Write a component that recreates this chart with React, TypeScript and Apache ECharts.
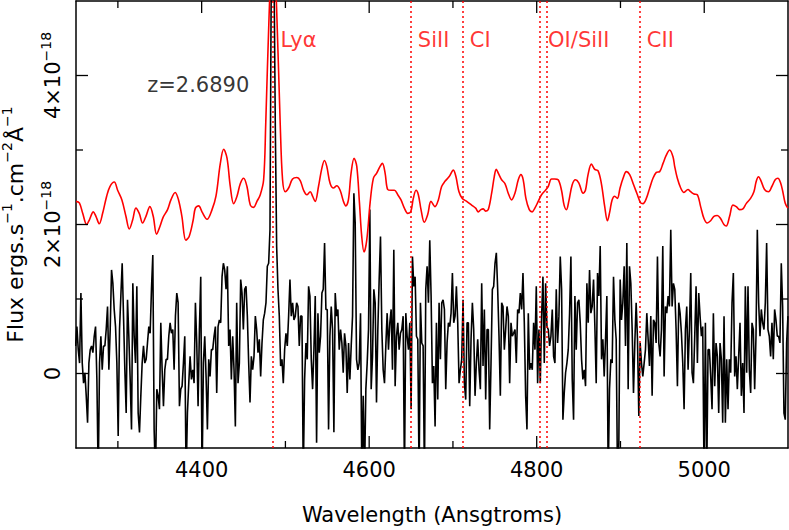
import React, { useEffect, useRef } from "react";
import * as echarts from "echarts";

// Raw spectrum (black), flux in units of 1e-18 erg s^-1 cm^-2 A^-1, on a uniform pixel grid
const BLACK_START = 4249.5;
const BLACK_STEP = 1.5896;
const BLACK_FLUX = [
  0.37,0.63,0.32,0.14,1.08,0.14,-0.13,0.01,-0.30,-0.66,
  0.14,0.32,0.37,0.28,0.50,0.63,-0.08,-1.4,0.14,0.50,
  0.05,0.37,0.37,0.59,0.90,0.05,0.59,1.39,1.21,0.86,
  0.63,0.14,-0.84,0.59,1.04,1.48,0.77,0.05,-0.53,0.99,
  0.50,-0.08,-0.75,1.21,0.50,0.14,1.17,-0.53,-0.79,-0.30,
  0.14,0.37,0.14,0.19,0.41,0.63,0.54,1.13,1.59,-0.75,
  -1.4,-0.21,-0.30,-0.48,0.68,0.05,-0.44,0.05,0.19,0.19,
  0.50,0.68,0.54,0.59,0.05,0.77,1.08,0.95,-0.44,-0.21,
  -0.17,0.14,0.50,-1.4,-0.53,-0.13,0.23,-0.08,0.05,-0.13,
  0.95,0.41,-0.44,0.59,1.30,-1.4,0.14,0.50,-0.04,-0.75,
  0.19,-0.04,0.32,0.32,0.50,0.63,-0.26,0.63,0.72,0.68,
  1.30,1.48,1.39,1.13,1.44,0.37,0.59,-0.08,0.50,0.05,
  -0.71,0.95,-0.13,0.14,1.26,1.08,0.59,1.13,1.17,0.77,
  0.14,-0.39,0.23,0.05,0.23,0.77,0.59,0.28,0.46,-0.04,
  0.41,0.72,0.81,0.95,1.44,1.48,1.93,5.5,6.5,5.5,
  3.3,1.71,1.13,0.77,0.10,0.19,-0.13,0.32,0.54,0.37,
  0.77,1.26,0.77,0.95,0.72,0.77,0.95,0.90,0.37,0.77,
  0.77,-1.4,-0.08,0.41,0.19,1.17,1.04,0.19,-0.21,0.32,
  1.04,-0.93,0.81,0.28,0.50,1.08,1.13,1.75,0.86,0.86,
  -0.75,0.50,0.90,0.59,-0.79,1.08,0.77,0.86,0.32,0.59,
  0.41,0.01,0.54,0.37,-0.26,0.41,-0.08,0.37,0.77,2.42,
  2.02,0.19,0.05,0.14,0.81,-1.4,-0.30,-1.4,-0.21,0.14,
  0.59,2.20,-0.21,0.23,1.13,0.95,-0.39,0.59,1.26,1.84,
  0.59,0.05,-0.13,0.37,0.81,0.32,0.68,0.86,0.05,1.66,
  -0.17,0.50,0.68,0.32,0.54,0.59,0.77,-1.4,0.81,0.50,
  0.32,0.68,-0.48,1.57,1.17,1.30,0.50,0.46,-1.4,0.95,
  0.41,0.37,-1.4,1.13,1.44,0.95,1.79,1.04,-0.13,0.10,
  -0.71,0.68,-0.35,0.95,0.19,0.95,0.99,0.86,-0.21,0.41,
  0.68,0.63,0.81,1.35,0.68,0.77,1.17,0.68,-0.13,0.05,
  0.19,0.99,-0.13,-0.35,0.68,0.68,-0.44,0.46,0.95,0.59,
  -0.30,0.14,0.46,0.05,-0.21,1.21,0.10,0.86,-0.35,0.59,
  0.59,-0.75,0.14,1.13,1.17,1.48,1.62,1.13,0.50,-0.30,
  0.95,0.90,0.32,0.59,0.90,0.77,-0.13,0.68,0.50,0.54,
  0.59,0.14,0.86,0.81,1.08,0.86,1.35,0.68,-0.30,-0.75,
  0.81,0.05,0.14,0.05,0.68,0.32,1.17,-0.13,0.59,-0.13,
  0.77,1.30,0.14,1.21,0.63,0.59,0.37,0.50,0.86,0.23,
  0.14,1.13,0.41,0.77,1.57,1.13,-0.62,-0.26,0.01,0.14,
  0.32,0.81,1.57,-0.08,-0.62,1.04,0.32,0.95,0.99,0.68,
  0.19,-0.08,0.05,-0.17,1.21,0.68,1.39,0.81,0.90,1.26,
  0.63,-0.13,1.35,1.04,1.71,0.19,0.46,-0.04,0.46,1.04,
  -1.4,-0.21,0.19,0.14,1.30,0.72,0.46,-1.4,-0.93,1.26,
  0.72,0.95,1.44,0.37,1.75,-0.21,1.44,1.21,0.59,-0.26,
  0.41,0.95,0.46,-0.57,0.41,0.14,-0.04,0.14,0.32,0.81,
  0.46,0.10,0.77,-0.30,0.72,0.68,0.41,1.57,0.41,0.23,
  0.59,1.71,-0.04,0.90,0.81,1.04,0.90,1.93,0.90,1.21,
  1.13,0.59,-0.17,0.95,0.81,0.54,0.14,-0.48,0.59,0.90,
  0.05,0.59,1.35,0.01,-0.13,0.50,1.17,0.14,1.08,0.77,
  0.50,0.63,-1.4,0.68,-1.4,0.32,0.32,-0.04,-0.48,0.81,
  -0.17,0.41,0.23,-0.53,0.41,0.19,-0.66,0.77,-0.66,0.19,
  -0.48,0.19,0.01,0.95,1.35,-0.04,0.23,-0.21,0.23,0.68,
  -0.30,0.14,-0.53,1.17,0.01,1.17,0.05,-0.26,0.68,0.59,
  -0.21,0.50,1.93,0.95,0.50,0.86,0.68,0.59,0.95,1.75,
  0.59,0.50,0.23,0.68,0.19,0.86,0.72,0.50,0.50,0.41,
  1.48,0.90,-0.53,-0.62,0.41,0.77,
];

// Smoothed spectrum (red), offset upward
const RED_WAVE = [
  4250,4254,4258,4262.7,4265.9,4270.7,4273.8,4277.8,4281.8,4286.6,4290.5,4295.7,4299.7,4304.8,4309.6,4313.6,4317.6,4321.5,4325.5,4329.5,4333.5,4338.2,4342.2,4346.2,4350.1,4354.1,4359.3,4363.3,4368.4,4372.4,4376.4,4381.1,4385.1,4389.9,
  4392.5,4396.5,4400.4,4406.4,4412.4,4417.1,4422.3,4426.3,4430.3,4434.2,4438.2,4442.2,4446.2,4450.1,4454.1,4458.1,4462.0,4466.0,4470.0,4474.0,4476.5,4480.5,4485.2,4489.5,4493.8,4496.6,4499.8,4503.8,4508.5,4513.7,4517.7,4521.7,4525.6,4529.6,4532.4,
  4535.5,4539.5,4543.4,4546.6,4549.4,4553.4,4557.4,4561.3,4565.3,4569.3,4572.1,4575.2,4578.4,4582.0,4585.2,4588.4,4591.1,4593.9,4597.1,4601.1,4605.0,4609.0,4613.0,4615.8,4619.0,4622.1,4626.1,4630.1,4634.1,4638.0,4642.0,4646.0,4649.6,4652.7,4655.9,4658.7,4661.9,4665.8,4669.8,4673.8,
  4678.6,4682.6,4686.5,4690.5,4695.3,4700.5,4703.6,4707.2,4711.2,4716.4,4722.3,4727.1,4730.3,4733.4,4736.2,4739.0,4742.2,4746.2,4749.3,4751.7,4754.1,4758.1,4762.1,4766.0,4770.0,4774.0,4778.0,4781.1,4783.9,4787.1,4791.1,4794.6,4797.8,4801.8,4805.8,4810.5,4813.7,4817.7,
  4821.6,4825.6,4829.6,4832.7,4835.5,4838.3,4842.3,4846.2,4850.2,4855.4,4858.2,4861.3,4865.3,4869.3,4873.3,4877.2,4881.2,4884.4,4887.2,4890.0,4893.1,4896.3,4899.5,4903.1,4907.0,4911.0,4915.8,4920.2,4924.1,4926.9,4930.9,4934.9,4938.8,4942.8,4946.8,4950.8,4954.7,4958.7,4962.7,
  4964.7,4967.9,4971.9,4975.8,4980.6,4983.8,4987.7,4991.7,4995.7,4999.7,5003.6,5007.6,5011.6,5015.6,5019.5,5023.5,5026.3,5030.3,5034.2,5038.2,5042.2,5046.2,5050.1,5055.3,5059.3,5062.1,5064.8,5068.0,5072.0,5076.8,5080.7,5084.7,5087.9,5091.1,5093.8,5096.6,5099.8,
];
const RED_FLUX = [
  2.31,2.29,2.15,2.00,2.06,2.17,2.11,2.01,2.15,2.38,2.51,2.57,2.46,2.33,2.11,1.94,2.06,2.22,2.15,2.02,2.11,2.24,2.11,1.87,1.97,2.10,2.20,2.33,2.43,2.33,2.11,1.79,1.84,2.06,
  2.22,2.25,2.17,2.07,2.20,2.38,2.82,3.01,2.89,2.51,2.28,2.38,2.55,2.62,2.51,2.26,2.23,2.31,2.40,2.60,3.35,4.8,6.0,4.9,3.35,2.60,2.44,2.49,2.61,2.63,2.59,2.46,2.40,2.44,2.38,
  2.31,2.51,2.75,2.86,2.78,2.55,2.49,2.52,2.46,2.31,2.25,2.33,2.69,2.89,2.78,2.29,1.84,1.63,1.79,2.29,2.62,2.69,2.78,2.82,2.69,2.47,2.46,2.46,2.40,2.33,2.22,2.15,2.17,2.35,2.46,2.40,2.20,2.03,2.13,2.31,
  2.24,2.33,2.51,2.58,2.64,2.73,2.64,2.44,2.35,2.31,2.26,2.22,2.17,2.20,2.21,2.18,2.20,2.42,2.64,2.74,2.69,2.60,2.55,2.42,2.33,2.42,2.60,2.67,2.60,2.35,2.20,2.17,2.22,2.31,2.40,2.46,2.51,2.61,
  2.61,2.60,2.46,2.26,2.20,2.31,2.53,2.60,2.56,2.42,2.46,2.67,2.81,2.74,2.72,2.55,2.24,2.05,2.17,2.33,2.38,2.35,2.49,2.62,2.71,2.67,2.53,2.40,2.29,2.28,2.35,2.49,2.62,2.70,2.71,2.82,2.93,3.00,2.91,
  2.78,2.62,2.49,2.43,2.47,2.44,2.41,2.40,2.24,2.08,2.02,2.05,2.11,2.12,2.08,2.00,1.98,2.11,2.26,2.24,2.20,2.21,2.28,2.35,2.44,2.58,2.64,2.58,2.47,2.44,2.51,2.60,2.62,2.56,2.44,2.29,2.22,
];

// Identified lines (observed wavelengths at z = 2.6890)
const LINE_WAVES = [4484.6, 4649.7, 4711.7, 4803.7, 4811.8, 4923.1];
const LABEL_NAMES = ["Lyα", "SiII", "CI", "OI/SiII", "CII"];
const LABEL_WAVES = [4484.6, 4649.7, 4711.7, 4811.8, 4923.1];
const LABEL_GAPS = [8, 7, 7, 1.5, 7];
const LABEL_LEVEL = 4.48;
const REDSHIFT_TEXT = "z=2.6890";
const REDSHIFT_POS = [4335, 3.87];

const X_MIN = 4250;
const X_MAX = 5100;
const Y_MIN = -1;
const Y_MAX = 5;
const X_MAJOR = [4400, 4600, 4800, 5000];
const X_MINOR = [4300, 4500, 4700, 4900];
const Y_MAJOR = [0, 2, 4];
const Y_MINOR = [1, 3];

const FONT = "DejaVu Sans";
const MAJOR_LEN = 12;
const MINOR_LEN = 7;

export default function App() {
  const ref = useRef<HTMLDivElement>(null);
  useEffect(() => {
    if (!ref.current) return;
    const chart = echarts.init(ref.current, undefined, { renderer: "svg" });
    const black = BLACK_FLUX.map((v, i) => [BLACK_START + i * BLACK_STEP, v]);
    const red = RED_WAVE.map((w, i) => [w, RED_FLUX[i]]);
    const axisLineStyle = { color: "#000", width: 1.5 };

    // tick items: [value, length, direction(0 = x tick, 1 = y tick)]
    const tickData: number[][] = [
      ...X_MAJOR.map((v) => [v, MAJOR_LEN, 0]),
      ...X_MINOR.map((v) => [v, MINOR_LEN, 0]),
      ...Y_MAJOR.map((v) => [v, MAJOR_LEN, 1]),
      ...Y_MINOR.map((v) => [v, MINOR_LEN, 1]),
    ];
    const tickStyle = { stroke: "#000", lineWidth: 1.3 };
    const renderTick = (_params: any, api: any) => {
      const v = api.value(0);
      const len = api.value(1);
      const dir = api.value(2);
      if (dir === 0) {
        const b = api.coord([v, Y_MIN]);
        const t = api.coord([v, Y_MAX]);
        return {
          type: "group",
          children: [
            { type: "line", shape: { x1: b[0], y1: b[1], x2: b[0], y2: b[1] - len }, style: tickStyle },
            { type: "line", shape: { x1: t[0], y1: t[1], x2: t[0], y2: t[1] + len }, style: tickStyle },
          ],
        };
      }
      const l = api.coord([X_MIN, v]);
      const r = api.coord([X_MAX, v]);
      return {
        type: "group",
        children: [
          { type: "line", shape: { x1: l[0], y1: l[1], x2: l[0] + len, y2: l[1] }, style: tickStyle },
          { type: "line", shape: { x1: r[0], y1: r[1], x2: r[0] - len, y2: r[1] }, style: tickStyle },
        ],
      };
    };

    const supRich = {
      m: { fontSize: 21, fontFamily: FONT, color: "#000", lineHeight: 28 },
      s: { fontSize: 14, fontFamily: FONT, color: "#000", lineHeight: 14, verticalAlign: "top" },
    };
    const nameRich = {
      m: { fontSize: 22, fontFamily: FONT, color: "#000", lineHeight: 30 },
      s: { fontSize: 14, fontFamily: FONT, color: "#000", lineHeight: 14, verticalAlign: "top" },
    };

    chart.setOption({
      animation: false,
      grid: {
        left: 76,
        right: 1,
        top: 1,
        bottom: 82,
        containLabel: false,
        outerBoundsMode: "none",
      },
      xAxis: [
        {
          type: "value",
          min: X_MIN,
          max: X_MAX,
          position: "bottom",
          splitLine: { show: false },
          axisLine: { show: true, onZero: false, lineStyle: axisLineStyle },
          axisTick: { show: false },
          axisLabel: {
            customValues: X_MAJOR,
            fontSize: 21,
            color: "#000",
            fontFamily: FONT,
            margin: 11,
            formatter: (v: number) => String(v),
          },
          name: "Wavelength (Ansgtroms)",
          nameLocation: "middle",
          nameGap: 56,
          nameTextStyle: { fontSize: 21, color: "#000", fontFamily: FONT },
        },
        {
          type: "value",
          min: X_MIN,
          max: X_MAX,
          position: "top",
          splitLine: { show: false },
          axisLine: { show: true, onZero: false, lineStyle: axisLineStyle },
          axisTick: { show: false },
          axisLabel: { show: false },
        },
      ],
      yAxis: [
        {
          type: "value",
          min: Y_MIN,
          max: Y_MAX,
          position: "left",
          splitLine: { show: false },
          axisLine: { show: true, onZero: false, lineStyle: axisLineStyle },
          axisTick: { show: false },
          axisLabel: {
            customValues: Y_MAJOR,
            rotate: 90,
            color: "#000",
            fontFamily: FONT,
            fontSize: 21,
            margin: 9,
            formatter: (v: number) => (v === 0 ? "{m|0}" : `{m|${v}×10}{s|−18}`),
            rich: supRich,
          },
          name: "{m|Flux ergs.s}{s|−1}{m|.cm}{s|−2}{m|Å}{s|−1}",
          nameLocation: "middle",
          nameGap: 46,
          nameTextStyle: { fontSize: 22, color: "#000", fontFamily: FONT, rich: nameRich },
        },
        {
          type: "value",
          min: Y_MIN,
          max: Y_MAX,
          position: "right",
          splitLine: { show: false },
          axisLine: { show: true, onZero: false, lineStyle: axisLineStyle },
          axisTick: { show: false },
          axisLabel: { show: false },
        },
      ],
      series: [
        {
          type: "line",
          name: "raw",
          data: black,
          showSymbol: false,
          symbol: "none",
          clip: true,
          lineStyle: { color: "#000", width: 1.6 },
          z: 2,
        },
        {
          type: "line",
          name: "smoothed",
          data: red,
          showSymbol: false,
          symbol: "none",
          smooth: 0.35,
          clip: true,
          lineStyle: { color: "#ff0000", width: 1.6 },
          z: 3,
        },
        {
          type: "scatter",
          name: "lines",
          symbolSize: 0,
          data: LABEL_NAMES.map((n, i) => ({
            name: n,
            value: [LABEL_WAVES[i], LABEL_LEVEL],
            label: { distance: LABEL_GAPS[i] },
          })),
          label: {
            show: true,
            position: "right",
            formatter: "{b}",
            color: "#ff0000",
            fontSize: 21,
            fontFamily: FONT,
            textBorderWidth: 0,
          },
          markLine: {
            silent: true,
            symbol: ["none", "none"],
            label: { show: false },
            lineStyle: { color: "#ff0000", type: [2, 3], width: 1.5 },
            data: LINE_WAVES.map((w) => ({ xAxis: w })),
          },
          z: 5,
        },
        {
          type: "scatter",
          name: "redshift",
          symbolSize: 0,
          data: [{ name: REDSHIFT_TEXT, value: REDSHIFT_POS }],
          label: {
            show: true,
            position: "right",
            distance: 0,
            formatter: "{b}",
            color: "#000",
            fontSize: 21,
            fontFamily: FONT,
            textBorderWidth: 0,
          },
          z: 5,
        },
        {
          type: "custom",
          name: "ticks",
          data: tickData,
          renderItem: renderTick,
          clip: false,
          silent: true,
          z: 6,
        },
      ],
    });
    return () => chart.dispose();
  }, []);
  return (
    <div
      ref={ref}
      style={{ position: "absolute", left: 0, top: 0, width: 789, height: 530, background: "#fff" }}
    />
  );
}
